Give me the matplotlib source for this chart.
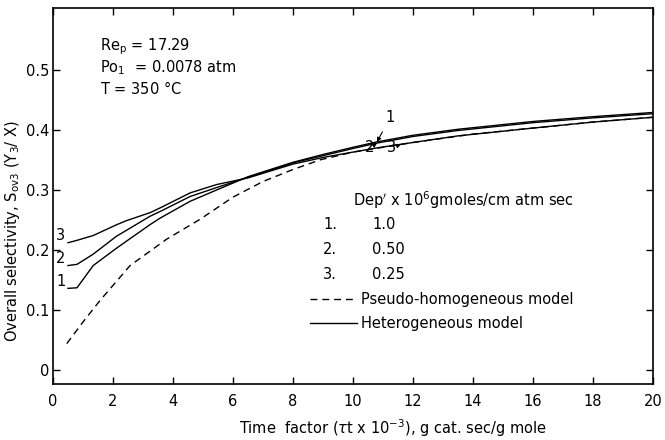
import numpy as np
import matplotlib
matplotlib.use("Agg")
import matplotlib.pyplot as plt
from matplotlib.lines import Line2D

# ---- data ----
x_het = [0.5, 0.8, 1.34, 2.12, 2.46, 3.23, 3.57, 4.57, 5.46, 6.5, 8.0, 9.0, 10.0, 10.8, 12.0, 13.5, 16.0, 18.0, 20.0]
curve1 = [0.136, 0.137, 0.174, 0.203, 0.215, 0.242, 0.253, 0.281, 0.300, 0.322, 0.346, 0.359, 0.371, 0.380, 0.391, 0.401, 0.414, 0.422, 0.429]
curve2 = [0.174, 0.176, 0.193, 0.223, 0.233, 0.256, 0.264, 0.289, 0.304, 0.321, 0.345, 0.357, 0.369, 0.378, 0.389, 0.399, 0.412, 0.420, 0.427]
curve3 = [0.212, 0.216, 0.224, 0.242, 0.249, 0.262, 0.270, 0.295, 0.309, 0.320, 0.343, 0.354, 0.363, 0.370, 0.379, 0.390, 0.403, 0.413, 0.421]

x_pseudo = [0.46, 1.0, 1.57, 2.57, 3.79, 4.9, 6.0, 7.0, 8.0, 8.9, 10.0, 12.0, 14.0, 16.0, 18.0, 20.0]
pseudo = [0.044, 0.080, 0.116, 0.174, 0.218, 0.251, 0.288, 0.314, 0.334, 0.350, 0.363, 0.379, 0.393, 0.403, 0.413, 0.421]

x_ticks = [0, 2, 4, 6, 8, 10, 12, 14, 16, 18, 20]
y_ticks = [0, 0.1, 0.2, 0.3, 0.4, 0.5]
y_ticklabels = ["0", "0.1", "0.2", "0.3", "0.4", "0.5"]
dep_rows = [("1.", "1.0"), ("2.", "0.50"), ("3.", "0.25")]

# ---- figure ----
plt.rcParams["font.family"] = ["DejaVu Sans"]
plt.rcParams["mathtext.fontset"] = "dejavusans"
W, H = 665, 440
fig = plt.figure(figsize=(W / 100, H / 100), dpi=100)
ax = fig.add_axes([53 / W, 1 - 384 / H, 600 / W, 376 / H])

lw = 1.0
ax.plot(x_het, curve1, color="black", lw=lw)
ax.plot(x_het, curve2, color="black", lw=lw)
ax.plot(x_het, curve3, color="black", lw=lw)
ax.plot(x_pseudo, pseudo, color="black", lw=lw, dashes=(5, 3.5))

ax.set_xlim(0, 20)
ax.set_ylim(-0.0233, 0.603)
ax.set_xticks(x_ticks)
ax.set_yticks(y_ticks)
ax.set_yticklabels(y_ticklabels)
ax.tick_params(direction="in", length=5, width=1.0, top=True, right=True,
               labelsize=10.5)
ax.tick_params(axis="x", pad=7)
ax.tick_params(axis="y", pad=2.5)
for s in ax.spines.values():
    s.set_linewidth(1.2)

fig.text(393 / W, 1 - 428 / H, r"Time  factor ($\tau$t x 10$^{-3}$), g cat. sec/g mole",
         ha="center", va="center", fontsize=10.5)
fig.text(13 / W, 1 - 231 / H, r"Overall selectivity, S$_{\mathregular{ov3}}$ (Y$_3$/ X)",
         ha="center", va="center", rotation=90, fontsize=10.5)


def px(xp, yp):
    return ((xp - 53) / 30.0, (370 - yp) / 600.0)


ax.text(*px(100, 47), r"Re$_\mathregular{p}$ = 17.29", fontsize=10.5, va="center")
ax.text(*px(100, 68), r"Po$_\mathregular{1}$  = 0.0078 atm", fontsize=10.5, va="center")
ax.text(*px(100, 89), r"T = 350 $\degree$C", fontsize=10.5, va="center")

# curve labels at left
for c, lab in zip([curve1, curve2, curve3], ["1", "2", "3"]):
    ax.annotate(lab, xy=(x_het[0], c[0]), xytext=(-2, 5), textcoords="offset points",
                ha="right", va="center", fontsize=10.5)

# arrow labels near x ~ 10.8
arrow = dict(arrowstyle="-|>", lw=0.8, color="black", mutation_scale=6, shrinkA=3, shrinkB=0)
i = x_het.index(10.8)
ax.annotate("1", xy=(x_het[i], curve1[i]), xytext=px(390, 118), textcoords="data",
            fontsize=10.5, ha="center", va="center", arrowprops=arrow)
ax.annotate("2", xy=(x_het[i], curve2[i]), xytext=px(370, 148), textcoords="data",
            fontsize=10.5, ha="center", va="center", arrowprops=arrow)
ax.annotate("3", xy=(11.6, np.interp(11.6, x_het, curve3)), xytext=px(392, 148),
            textcoords="data", fontsize=10.5, ha="center", va="center", arrowprops=arrow)

# Dep' block
ax.text(*px(353, 200), r"Dep$^{\prime}$ x 10$^{6}$gmoles/cm atm sec", fontsize=10.5, va="center")
for k, (a, b) in enumerate(dep_rows):
    yy = 225 + 25 * k
    ax.text(*px(323, yy), a, fontsize=10.5, va="center")
    ax.text(*px(372, yy), b, fontsize=10.5, va="center")

handles = [Line2D([], [], color="black", lw=lw, dashes=(5, 3.5)),
           Line2D([], [], color="black", lw=lw)]
ax.legend(handles, ["Pseudo-homogeneous model", "Heterogeneous model"],
          frameon=False, fontsize=10.5, handlelength=3.2, handletextpad=0.3,
          labelspacing=0.65, borderaxespad=0, borderpad=0,
          loc="upper left", bbox_to_anchor=((310 - 53) / 600, 1 - (292 - 8) / 376))

fig.savefig("out.png", dpi=100)
